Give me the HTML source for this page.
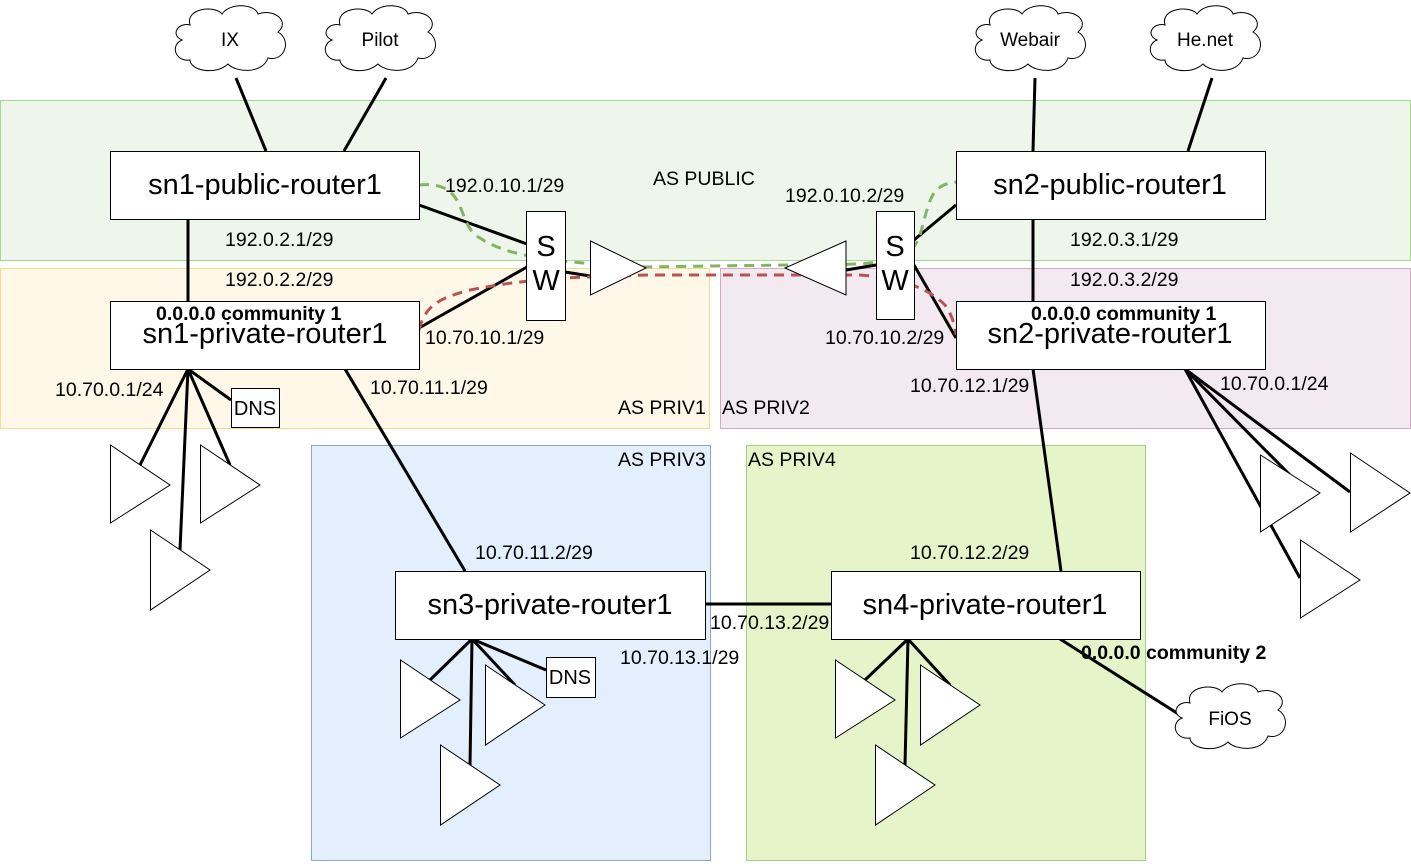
<!DOCTYPE html>
<html><head><meta charset="utf-8"><style>
body{margin:0;background:#fff}
svg text{font-family:"Liberation Sans",Arial,sans-serif}
</style></head><body>
<svg width="1411" height="862" viewBox="0 0 1411 862" xmlns="http://www.w3.org/2000/svg">
<rect x="0.5" y="100.5" width="1410" height="160" fill="#eef5ea" stroke="#a8d890"/>
<rect x="0.5" y="268.5" width="709" height="160" fill="#fff8e9" stroke="#f5dc95"/>
<rect x="720.5" y="268.5" width="690" height="160" fill="#f3e9f0" stroke="#cfadc4"/>
<rect x="311.5" y="445.5" width="399" height="415" fill="#e3effc" stroke="#8aa6cc"/>
<rect x="746.5" y="445.5" width="399" height="415" fill="#e5f5c9" stroke="#aacb80"/>
<g font-size="19.5" fill="#000">
<text x="653" y="185">AS PUBLIC</text>
<text x="618" y="414">AS PRIV1</text>
<text x="722" y="414">AS PRIV2</text>
<text x="618" y="466">AS PRIV3</text>
<text x="748" y="466">AS PRIV4</text>
</g>
<g stroke="#000" stroke-width="3" fill="none">
<line x1="236" y1="78" x2="266" y2="151"/>
<line x1="386" y1="78" x2="344" y2="151"/>
<line x1="1035" y1="78" x2="1033" y2="151"/>
<line x1="1212" y1="78" x2="1188" y2="151"/>
<line x1="188" y1="219" x2="188" y2="301"/>
<line x1="1033" y1="219" x2="1033" y2="301"/>
<line x1="419" y1="205" x2="527" y2="244"/>
<line x1="419" y1="328" x2="527" y2="267"/>
<line x1="565" y1="272" x2="590" y2="276"/>
<line x1="846" y1="270" x2="876" y2="265"/>
<line x1="914" y1="240" x2="956" y2="205"/>
<line x1="914" y1="265" x2="956" y2="338"/>
<line x1="345" y1="369" x2="465" y2="571"/>
<line x1="1033" y1="369" x2="1061" y2="571"/>
<line x1="705" y1="604" x2="831" y2="604"/>
<line x1="1060" y1="639" x2="1180" y2="715"/>
<line x1="188" y1="369" x2="140" y2="465"/>
<line x1="188" y1="369" x2="180" y2="550"/>
<line x1="188" y1="369" x2="230" y2="465"/>
<line x1="188" y1="369" x2="231" y2="400"/>
<line x1="1185" y1="369" x2="1290" y2="475"/>
<line x1="1185" y1="369" x2="1350" y2="492"/>
<line x1="1185" y1="369" x2="1300" y2="578"/>
<line x1="472" y1="639" x2="430" y2="680"/>
<line x1="472" y1="639" x2="470" y2="765"/>
<line x1="472" y1="639" x2="515" y2="685"/>
<line x1="472" y1="639" x2="546" y2="670"/>
<line x1="908" y1="639" x2="865" y2="680"/>
<line x1="908" y1="639" x2="905" y2="765"/>
<line x1="908" y1="639" x2="950" y2="685"/>
</g>
<path d="M419,185 C470,180 455,225 480,238 C510,258 560,262 640,267 L860,264 C905,260 915,250 920,235 C930,200 930,185 956,182" stroke="#82b366" stroke-width="3" fill="none" stroke-dasharray="10,7"/>
<path d="M419,330 C425,305 440,298 470,290 C520,280 560,277 650,275 L860,275 C905,278 930,290 945,305 C952,315 955,325 956,335" stroke="#b85450" stroke-width="3" fill="none" stroke-dasharray="10,7"/>
<g fill="#fff" stroke="#000" stroke-width="1">
<rect x="110.5" y="151.5" width="309" height="68"/>
<rect x="956.5" y="151.5" width="309" height="68"/>
<rect x="110.5" y="301.5" width="309" height="68"/>
<rect x="956.5" y="301.5" width="309" height="68"/>
<rect x="395.5" y="571.5" width="310" height="68"/>
<rect x="831.5" y="571.5" width="309" height="68"/>
<rect x="526.5" y="211.5" width="39" height="109"/>
<rect x="876.5" y="211.5" width="38" height="108"/>
<rect x="231.5" y="388.5" width="48" height="39"/>
<rect x="546.5" y="657.5" width="49" height="40"/>
<polygon points="590.5,241 646,268 590.5,295"/>
<polygon points="846,241 785,268 846,295"/>
<polygon points="110.5,445 170,485 110.5,523"/>
<polygon points="200.5,445 260,485 200.5,523"/>
<polygon points="150.5,530 210,570 150.5,610"/>
<polygon points="1260.5,455 1320,493 1260.5,532"/>
<polygon points="1350.5,453 1410,493 1350.5,532"/>
<polygon points="1300.5,540 1360,580 1300.5,618"/>
<polygon points="400.5,660 460,700 400.5,738"/>
<polygon points="485.5,665 545,705 485.5,745"/>
<polygon points="440.5,745 500,785 440.5,825"/>
<polygon points="835.5,660 895,700 835.5,738"/>
<polygon points="920.5,665 980,705 920.5,745"/>
<polygon points="875.5,745 935,785 875.5,825"/>
</g>
<g fill="#fff" stroke="#000" stroke-width="1">
<path d="M190,25 C185,8 215,5 222,14 C230,2 255,4 258,14 C275,8 290,22 278,32 C292,40 285,62 268,58 C262,75 235,72 228,64 C215,76 190,70 190,60 C175,62 170,45 182,40 C170,35 178,22 190,25 Z"/>
<path d="M340,25 C335,8 365,5 372,14 C380,2 405,4 408,14 C425,8 440,22 428,32 C442,40 435,62 418,58 C412,75 385,72 378,64 C365,76 340,70 340,60 C325,62 320,45 332,40 C320,35 328,22 340,25 Z"/>
<path d="M990,25 C985,8 1015,5 1022,14 C1030,2 1055,4 1058,14 C1075,8 1090,22 1078,32 C1092,40 1085,62 1068,58 C1062,75 1035,72 1028,64 C1015,76 990,70 990,60 C975,62 970,45 982,40 C970,35 978,22 990,25 Z"/>
<path d="M1165,25 C1160,8 1190,5 1197,14 C1205,2 1230,4 1233,14 C1250,8 1265,22 1253,32 C1267,40 1260,62 1243,58 C1237,75 1210,72 1203,64 C1190,76 1165,70 1165,60 C1150,62 1145,45 1157,40 C1145,35 1153,22 1165,25 Z"/>
<path d="M1190,703 C1185,686 1215,683 1222,692 C1230,680 1255,682 1258,692 C1275,686 1290,700 1278,710 C1292,718 1285,740 1268,736 C1262,753 1235,750 1228,742 C1215,754 1190,748 1190,738 C1175,740 1170,723 1182,718 C1170,713 1178,700 1190,703 Z"/>
</g>
<g font-size="19" text-anchor="middle">
<text x="230" y="46">IX</text>
<text x="380" y="46">Pilot</text>
<text x="1030" y="46">Webair</text>
<text x="1205" y="46">He.net</text>
<text x="1230" y="725">FiOS</text>
</g>
<g font-size="29" text-anchor="middle">
<text x="265" y="194">sn1-public-router1</text>
<text x="1110" y="194">sn2-public-router1</text>
<text x="265" y="343">sn1-private-router1</text>
<text x="1110" y="343">sn2-private-router1</text>
<text x="550" y="614">sn3-private-router1</text>
<text x="985" y="614">sn4-private-router1</text>
<text x="546" y="256">S</text>
<text x="546" y="290">W</text>
<text x="895" y="256">S</text>
<text x="895" y="290">W</text>
</g>
<g font-size="20" text-anchor="middle">
<text x="255" y="415">DNS</text>
<text x="570" y="684">DNS</text>
</g>
<g font-size="19.5" font-weight="bold">
<text x="156" y="320">0.0.0.0 community 1</text>
<text x="1031" y="320">0.0.0.0 community 1</text>
<text x="1081" y="659">0.0.0.0 community 2</text>
</g>
<g font-size="19.5">
<text x="445" y="192">192.0.10.1/29</text>
<text x="785" y="202">192.0.10.2/29</text>
<text x="225" y="246">192.0.2.1/29</text>
<text x="225" y="286">192.0.2.2/29</text>
<text x="1070" y="246">192.0.3.1/29</text>
<text x="1070" y="286">192.0.3.2/29</text>
<text x="425" y="344">10.70.10.1/29</text>
<text x="825" y="344">10.70.10.2/29</text>
<text x="55" y="396">10.70.0.1/24</text>
<text x="370" y="394">10.70.11.1/29</text>
<text x="910" y="392">10.70.12.1/29</text>
<text x="1220" y="390">10.70.0.1/24</text>
<text x="475" y="559">10.70.11.2/29</text>
<text x="910" y="559">10.70.12.2/29</text>
<text x="710" y="629">10.70.13.2/29</text>
<text x="620" y="664">10.70.13.1/29</text>
</g>
</svg>
</body></html>
